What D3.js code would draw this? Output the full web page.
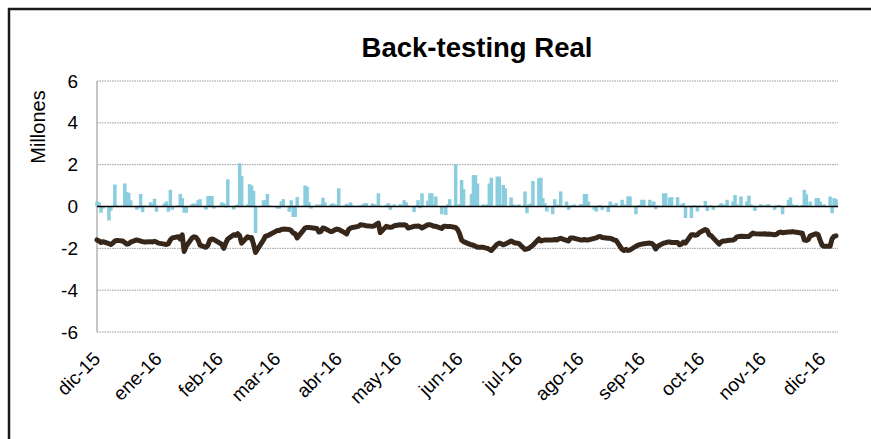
<!DOCTYPE html>
<html>
<head>
<meta charset="utf-8">
<script src="https://cdn.jsdelivr.net/npm/d3@7"></script>
<style>
  html, body { margin: 0; background: #fff; overflow: hidden; }
  svg { display: block; font-family: "Liberation Sans", Arial, sans-serif; }
</style>
</head>
<body>
<svg id="chart" width="871" height="439"></svg>
<script>
// daily P&L bars (millones), one value per business day, dic-15 .. dic-16
let dailyValues = [
  0.24, 0.2, -0.3, -0.1,
  -0.67, -0.2, 0.03, 1.05, 0.05,
  0.05, 1.1, 0.7, 0.65, 0.3,
  -0.15, -0.1, 0.6, -0.27, 0.05,
  0.2, 0.15, 0.37, -0.25, 0.0,
  0.15, 0.24, -0.25, 0.8, -0.15,
  0.05, 0.6, 0.4, -0.3, -0.3,
  0.12, 0.15, 0.1, 0.3, 0.35,
  -0.15, 0.5, 0.5, 0.5, -0.1,
  0.05, 0.2, 0.15, -0.05, 1.3,
  -0.15, 0.05, 0.1, 2.07, 1.45,
  0.1, 1.07, 1.0, 0.75, -1.27,
  0.0, 0.3, 0.3, 0.6, 0.05,
  0.0, -0.1, -0.1, 0.25, 0.35,
  -0.25, 0.3, -0.5, -0.5, 0.45,
  0.05, 1.0, 0.95, 0.2, -0.1,
  0.1, 0.05, 0.1, 0.42, 0.2,
  0.1, 0.15, 0.1, 0.05, 0.87,
  0.05, 0.13, 0.1, 0.2, 0.05,
  0.05, 0.0, 0.1, 0.15, 0.15,
  0.15, 0.1, 0.05, 0.63, 0.05,
  0.08, 0.16, -0.16, 0.05, 0.1,
  0.11, 0.05, 0.3, 0.2, 0.05,
  -0.27, 0.05, 0.3, -0.08, 0.63,
  0.27, 0.63, 0.63, 0.1, 0.48,
  -0.37, -0.05, -0.4, 0.1, 0.35,
  2.02, 0.05, 0.11, 1.27, 0.83,
  0.05, 0.6, 1.5, 1.5, 1.1,
  0.1, 0.05, 0.1, 1.1, 1.38,
  1.43, 1.43, 0.1, 1.03, 0.87,
  0.43, 0.1, 0.05, 0.05, 0.1,
  0.72, -0.32, 0.1, 0.15, 1.22,
  1.35, 1.38, 0.4, 0.16, -0.24,
  -0.37, 0.35, 0.05, 0.1, 0.72,
  0.24, -0.16, 0.05, 0.08, 0.1,
  0.11, 0.1, 0.6, 0.6, 0.24,
  -0.16, -0.24, 0.05, 0.08, -0.16,
  -0.27, 0.24, 0.1, 0.05, 0.16,
  0.32, 0.1, 0.05, 0.48, 0.48,
  -0.37, 0.05, 0.08, 0.32, 0.32,
  0.32, 0.1, 0.24, -0.13, 0.05,
  0.63, 0.63, 0.05, 0.43, 0.45,
  0.45, 0.05, 0.1, 0.16, -0.55,
  -0.55, 0.05, 0.05, -0.24, 0.05,
  0.27, -0.21, 0.05, 0.05, -0.16,
  0.08, 0.16, 0.1, 0.05, 0.32,
  0.24, 0.55, 0.1, 0.05, 0.48,
  0.24, 0.52, 0.1, 0.05, -0.21,
  0.11, 0.05, 0.05, 0.08, 0.11,
  -0.16, 0.05, 0.08, 0.05, -0.37,
  0.32, 0.43, 0.1, 0.05, 0.08,
  0.08, 0.8, 0.58, 0.1, 0.24,
  0.4, 0.4, 0.24, 0.05, 0.1,
  0.48, -0.32, 0.4, 0.35
];

// back-testing line (millones)
let backtestValues = [
  -1.6, -1.65, -1.72, -1.68,
  -1.78, -1.82, -1.75, -1.65, -1.62,
  -1.65, -1.72, -1.8, -1.78, -1.7,
  -1.6, -1.62, -1.65, -1.68, -1.7,
  -1.68, -1.7, -1.66, -1.7, -1.75,
  -1.8, -1.82, -1.78, -1.6, -1.5,
  -1.45, -1.55, -1.35, -2.15, -1.9,
  -1.5, -1.45, -1.48, -1.6, -1.85,
  -1.95, -1.85, -1.6, -1.55, -1.58,
  -1.75, -1.82, -2.0, -1.75, -1.55,
  -1.35, -1.38, -1.3, -1.4, -1.75,
  -1.45, -1.5, -1.48, -1.8, -2.2,
  -1.75, -1.6, -1.42, -1.4, -1.35,
  -1.2, -1.15, -1.15, -1.1, -1.08,
  -1.1, -1.15, -1.27, -1.3, -1.5,
  -1.15, -1.03, -1.0, -1.0, -1.02,
  -1.05, -1.22, -1.2, -1.03, -1.05,
  -1.2, -1.18, -1.12, -1.08, -1.1,
  -1.25, -1.32, -1.1, -1.03, -1.0,
  -0.95, -0.87, -0.88, -0.9, -0.92,
  -0.95, -0.92, -0.85, -0.8, -1.25,
  -0.95, -0.98, -1.0, -0.98, -0.92,
  -0.87, -0.88, -0.87, -0.9, -1.03,
  -0.95, -0.95, -0.93, -0.96, -1.03,
  -0.87, -0.87, -0.9, -0.95, -0.95,
  -1.05, -0.95, -0.95, -0.96, -0.95,
  -1.0, -1.1, -1.3, -1.6, -1.68,
  -1.8, -1.83, -1.85, -1.9, -1.95,
  -1.95, -1.98, -2.0, -2.05, -2.1,
  -1.8, -1.75, -1.78, -1.83, -1.8,
  -1.65, -1.7, -1.75, -1.75, -1.78,
  -2.05, -2.03, -2.0, -1.92, -1.85,
  -1.55, -1.65, -1.62, -1.6, -1.6,
  -1.6, -1.58, -1.6, -1.55, -1.52,
  -1.62, -1.65, -1.5, -1.5, -1.52,
  -1.6, -1.6, -1.58, -1.6, -1.6,
  -1.52, -1.5, -1.45, -1.43, -1.48,
  -1.52, -1.52, -1.55, -1.6, -1.62,
  -2.05, -2.1, -2.05, -2.1, -2.08,
  -1.9, -1.85, -1.82, -1.8, -1.78,
  -1.75, -1.77, -1.85, -2.03, -1.9,
  -1.75, -1.73, -1.7, -1.7, -1.72,
  -1.72, -1.83, -1.8, -1.7, -1.75,
  -1.35, -1.35, -1.38, -1.35, -1.25,
  -1.1, -1.15, -1.35, -1.4, -1.5,
  -1.8, -1.7, -1.65, -1.65, -1.63,
  -1.6, -1.55, -1.45, -1.43, -1.42,
  -1.43, -1.43, -1.35, -1.27, -1.3,
  -1.32, -1.32, -1.3, -1.33, -1.32,
  -1.35, -1.33, -1.25, -1.22, -1.25,
  -1.22, -1.22, -1.2, -1.22, -1.23,
  -1.28, -1.6, -1.62, -1.58, -1.4,
  -1.3, -1.35, -1.62, -1.85, -1.9,
  -1.9, -1.55, -1.43, -1.4
];

let monthLabels = ['dic-15', 'ene-16', 'feb-16', 'mar-16', 'abr-16', 'may-16', 'jun-16',
  'jul-16', 'ago-16', 'sep-16', 'oct-16', 'nov-16', 'dic-16'];
let yTicks = [-6, -4, -2, 0, 2, 4, 6];

let startDate = new Date(2015, 11, 1);
let endDate = new Date(2016, 11, 9);

// business days for the series
let days = [];
for (let d = new Date(startDate); days.length < dailyValues.length; d.setDate(d.getDate() + 1)) {
  if (d.getDay() !== 0 && d.getDay() !== 6) days.push(new Date(d));
}

let rows = days.map((day, i) => {
  return { date: day, bar: dailyValues[i], line: backtestValues[i] };
});

let svg = d3.select('#chart');

svg.append('rect')
  .attr('width', 871).attr('height', 439)
  .attr('fill', '#fff');

// outer frame (only top and left edges fall inside the picture)
svg.append('path')
  .attr('d', 'M9,445 L9,9 L880,9')
  .attr('fill', 'none')
  .attr('stroke', '#1a1a1a')
  .attr('stroke-width', 2.5);

let x = d3.scaleTime().domain([startDate, endDate]).range([97, 838]);
let y = d3.scaleLinear().domain([-6, 6]).range([332, 81]);

// gridlines
svg.append('g')
  .selectAll('line')
  .data(yTicks.filter((t) => t !== 0))
  .enter()
  .append('line')
  .attr('x1', 97).attr('x2', 838)
  .attr('y1', (t) => y(t)).attr('y2', (t) => y(t))
  .attr('stroke', '#9a9a9a')
  .attr('stroke-width', 1)
  .attr('stroke-dasharray', '1.5,1');

// left axis
svg.append('line')
  .attr('x1', 97).attr('x2', 97)
  .attr('y1', y(6)).attr('y2', y(-6))
  .attr('stroke', '#a0a0a0')
  .attr('stroke-width', 1.2);

let yAxis = svg.append('g')
  .attr('transform', 'translate(97,0)')
  .call(d3.axisLeft(y).tickValues(yTicks).tickSize(0).tickPadding(19).tickFormat((t) => String(t)));
yAxis.select('.domain').remove();
yAxis.selectAll('text')
  .attr('font-size', 19)
  .attr('fill', '#000')
  .attr('font-family', '"Liberation Sans", Arial, sans-serif');

// bars
svg.append('g')
  .selectAll('rect')
  .data(rows)
  .enter()
  .append('rect')
  .attr('x', (r) => x(r.date) - 1.7)
  .attr('width', 3.5)
  .attr('y', (r) => y(Math.max(0, r.bar)))
  .attr('height', (r) => Math.abs(y(r.bar) - y(0)))
  .attr('fill', '#89cdde');

// zero line
svg.append('line')
  .attr('x1', 97).attr('x2', 838)
  .attr('y1', y(0)).attr('y2', y(0))
  .attr('stroke', '#000')
  .attr('stroke-width', 1.5);

// back-testing line
let line = d3.line()
  .x((r) => x(r.date))
  .y((r) => y(r.line));

svg.append('path')
  .datum(rows)
  .attr('d', line)
  .attr('fill', 'none')
  .attr('stroke', '#36271a')
  .attr('stroke-width', 5)
  .attr('stroke-linejoin', 'round')
  .attr('stroke-linecap', 'round');

// x tick labels
let monthTicks = d3.timeMonth.range(startDate, endDate);
let xAxis = svg.append('g')
  .attr('transform', 'translate(0,' + y(-6) + ')')
  .call(d3.axisBottom(x).tickValues(monthTicks).tickSize(0).tickFormat((d, i) => monthLabels[i]));
xAxis.select('.domain').remove();
xAxis.selectAll('text')
  .attr('font-size', 19)
  .attr('fill', '#000')
  .attr('font-family', '"Liberation Sans", Arial, sans-serif')
  .attr('text-anchor', 'end')
  .attr('dy', 0)
  .attr('y', 0)
  .attr('transform', 'translate(4,28) rotate(-45)');

// title
svg.append('text')
  .attr('x', 477).attr('y', 57)
  .attr('text-anchor', 'middle')
  .attr('font-size', 27.5)
  .attr('font-weight', 'bold')
  .text('Back-testing Real');

// y axis title
svg.append('text')
  .attr('transform', 'translate(45,127) rotate(-90)')
  .attr('text-anchor', 'middle')
  .attr('font-size', 20)
  .text('Millones');
</script>
</body>
</html>
